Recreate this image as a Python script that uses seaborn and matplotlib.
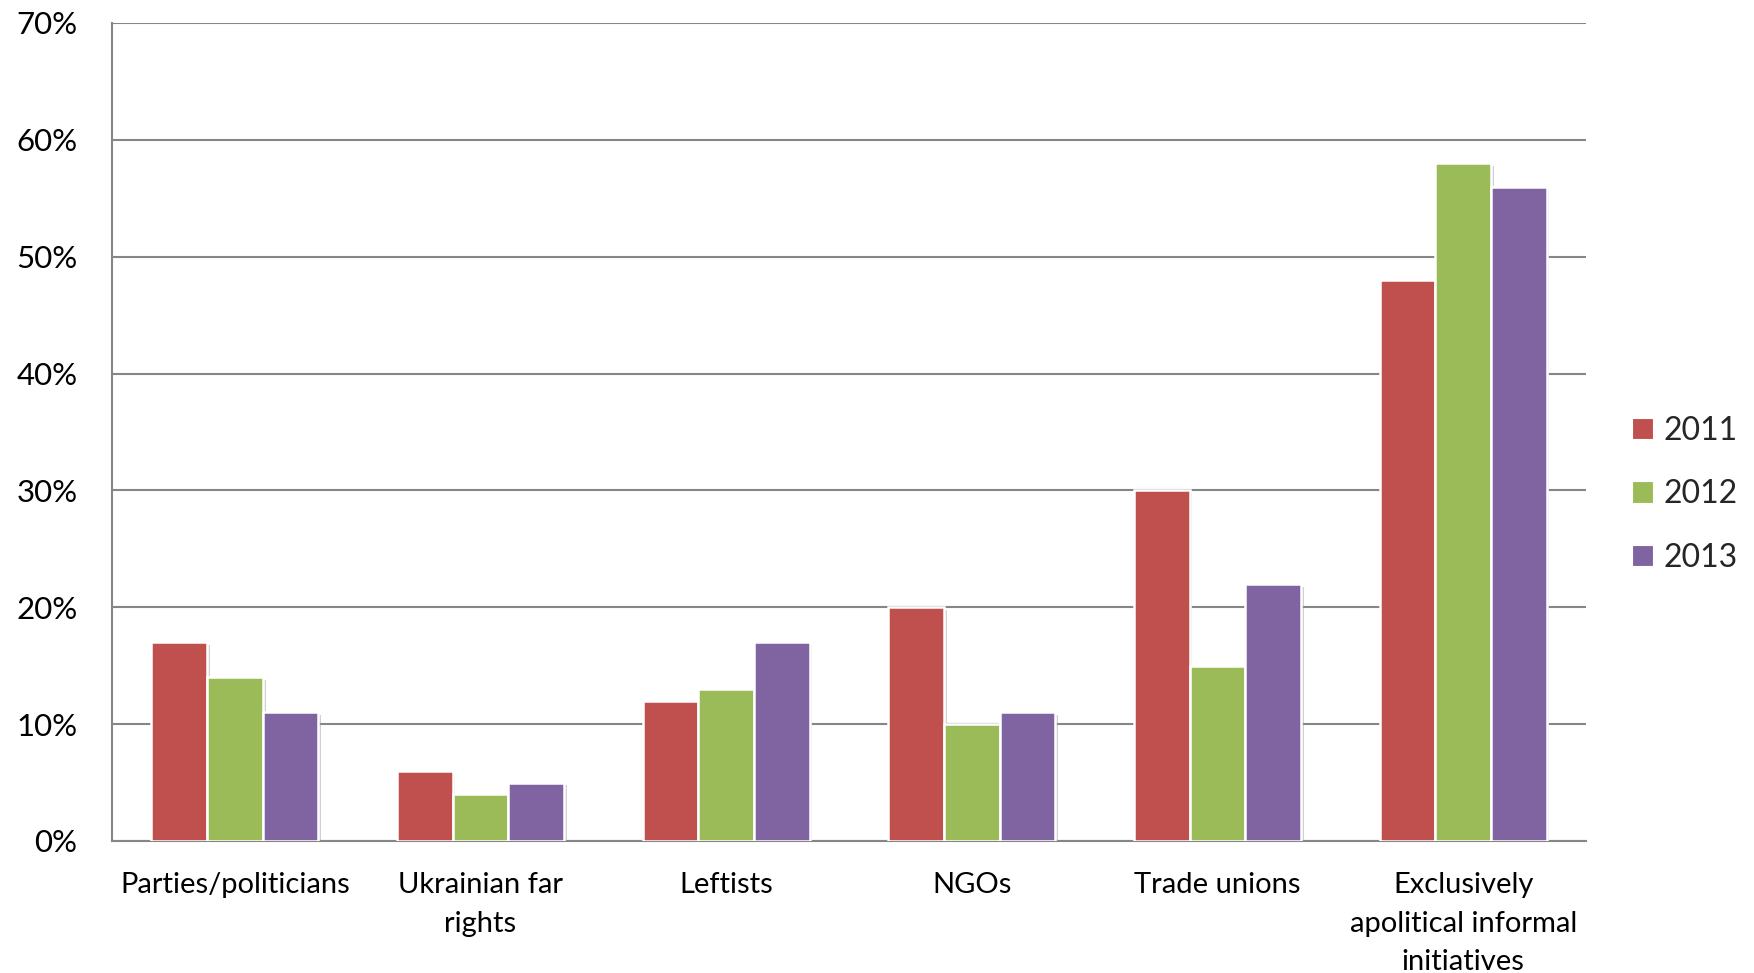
import matplotlib
matplotlib.use("Agg")
import matplotlib.pyplot as plt
import matplotlib.patheffects as pe
from matplotlib.patches import Patch
import seaborn as sns
import pandas as pd

categories = ["Parties/politicians", "Ukrainian far\nrights", "Leftists", "NGOs",
              "Trade unions", "Exclusively\napolitical informal\ninitiatives"]
years = ["2011", "2012", "2013"]
values_2011 = [17, 6, 12, 20, 30, 48]
values_2012 = [14, 4, 13, 10, 15, 58]
values_2013 = [11, 5, 17, 11, 22, 56]
y_ticks = [0, 10, 20, 30, 40, 50, 60, 70]
colors = ["#C0504D", "#9BBB59", "#8064A2"]

df = pd.DataFrame({
    "category": categories * 3,
    "year": [y for y in years for _ in categories],
    "value": values_2011 + values_2012 + values_2013,
})

sns.set_theme(style="white")
plt.rcParams["font.family"] = ["Lato", "DejaVu Sans"]

fig = plt.figure(figsize=(17.54, 9.73), dpi=100)
ax = fig.add_axes([0.0639, 0.1357, 0.9042 - 0.0639, 0.9764 - 0.1357])

sns.barplot(data=df, x="category", y="value", hue="year", order=categories,
            hue_order=years, palette=colors, width=0.68, gap=0,
            edgecolor="white", linewidth=1.8, saturation=1, ax=ax, legend=False,
            zorder=3)

shadow = [pe.SimplePatchShadow(offset=(2, -2), shadow_rgbFace="#9a9a9a", alpha=0.45),
          pe.Normal()]
for bar in ax.patches:
    bar.set_path_effects(shadow)

ax.set_ylim(0, 70)
ax.set_xlim(-0.5, len(categories) - 0.5)
ax.set_yticks(y_ticks)
ax.set_yticklabels([f"{t}%" for t in y_ticks], fontsize=22.5, color="black")
ax.tick_params(axis="y", length=0, pad=25)
ax.tick_params(axis="x", length=0, pad=22.5)
for lbl in ax.get_xticklabels():
    lbl.set_fontsize(21)
    lbl.set_color("black")
    lbl.set_linespacing(1.6)
    lbl.set_verticalalignment("top")

ax.grid(axis="y", color="#868686", linewidth=1.5, zorder=0)
ax.set_axisbelow(True)
ax.set_xlabel("")
ax.set_ylabel("")
for side in ["top", "right"]:
    ax.spines[side].set_visible(False)
for side in ["left", "bottom"]:
    ax.spines[side].set_color("#868686")
    ax.spines[side].set_linewidth(1.5)

handles = [Patch(facecolor=c, edgecolor="white", linewidth=0.8) for c in colors]
leg = fig.legend(handles, years, loc="center left", bbox_to_anchor=(0.914, 0.492),
                 frameon=False, fontsize=23, handlelength=0.65, handleheight=0.65,
                 handletextpad=0.35, labelspacing=1.05)

fig.savefig("out.png", dpi=100, facecolor="white")
